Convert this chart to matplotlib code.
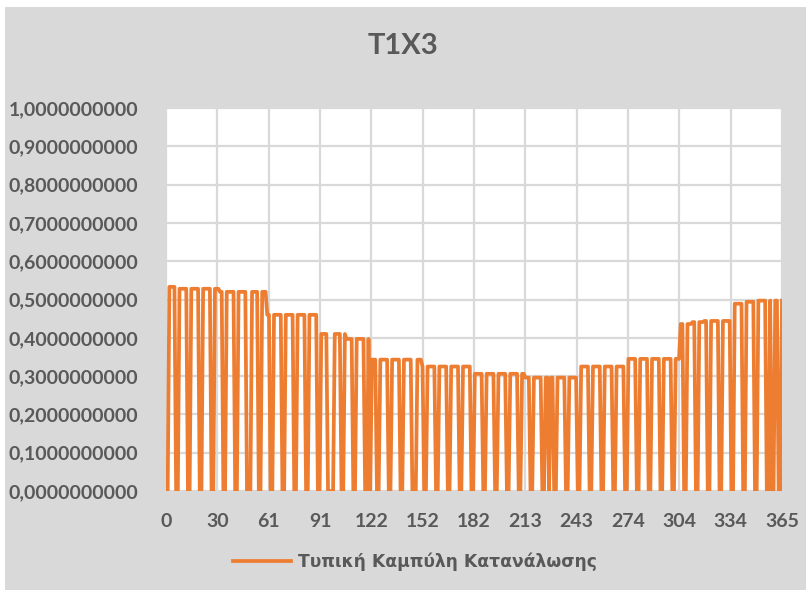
import numpy as np
import matplotlib.pyplot as plt
from matplotlib.patches import Rectangle
from matplotlib.ticker import FuncFormatter

plt.rcParams['font.family'] = ['Lato', 'DejaVu Sans']

# levels: (first day of step, working-day level)
step_start = [1, 8, 32, 60, 91, 107, 121, 152, 182, 213, 244, 274, 305, 312, 319, 335, 342, 349]
step_level = [0.533, 0.528, 0.520, 0.460, 0.410, 0.397, 0.343, 0.325, 0.306, 0.296,
              0.325, 0.345, 0.436, 0.441, 0.444, 0.489, 0.494, 0.497]
# non-working weekdays (holidays)
holidays = [1, 50, 96, 99, 121, 148, 227, 359, 360]
# weekday of Jan 1st (0 = Monday)
first_weekday = 0

xtick_pos = [0, 30.42, 60.83, 91.25, 121.67, 152.08, 182.5, 212.92, 243.33, 273.75, 304.17, 334.58, 365]
xtick_lab = ["0", "30", "61", "91", "122", "152", "182", "213", "243", "274", "304", "334", "365"]

days = np.arange(1, 366)
idx = np.searchsorted(step_start, days, side="right") - 1
vals = np.array(step_level)[idx]
wd = (days - 1 + first_weekday) % 7
vals[wd >= 5] = 0.0
vals[np.isin(days, holidays)] = 0.0

txt = "#595959"
fig = plt.figure(figsize=(8.09, 5.92), dpi=100, facecolor="white")
fig.patches.append(Rectangle((5/809, 2/592), 801/809, 583/592, transform=fig.transFigure,
                             facecolor="#d9d9d9", edgecolor="none", zorder=-5))

ax = fig.add_axes([166/809, 1-491/592, 616/809, 383/592])
ax.set_facecolor("white")
ax.plot(days, vals, color="#ED7D31", lw=2.7, solid_joinstyle="round",
        label="Τυπική Καμπύλη Κατανάλωσης")

ax.set_xlim(0, 365)
ax.set_ylim(0, 1.0)
ax.set_yticks(np.arange(0, 1.01, 0.1))
ax.yaxis.set_major_formatter(FuncFormatter(lambda v, p: f"{v:.10f}".replace(".", ",")))
ax.set_xticks(xtick_pos)
ax.set_xticklabels(xtick_lab)
ax.grid(True, color="#d9d9d9", lw=1.6)
ax.set_axisbelow(True)
for s in ax.spines.values():
    s.set_visible(False)
ax.tick_params(length=0, labelsize=14, labelcolor=txt, pad=20)
ax.tick_params(axis="x", pad=16)
for lab in ax.get_xticklabels() + ax.get_yticklabels():
    lab.set_fontweight("bold")

fig.text(403/809, 1-46/592, "T1X3", ha="center", va="center", fontsize=21,
         fontweight="bold", color=txt)

leg = fig.legend(loc="center", bbox_to_anchor=(415/809, 1-562/592), frameon=False,
                 handlelength=3.4, handletextpad=0.45,
                 prop={"family": "DejaVu Sans", "weight": "bold", "size": 12.3})
for t in leg.get_texts():
    t.set_color(txt)

fig.savefig("out.png", dpi=100, facecolor=fig.get_facecolor())
